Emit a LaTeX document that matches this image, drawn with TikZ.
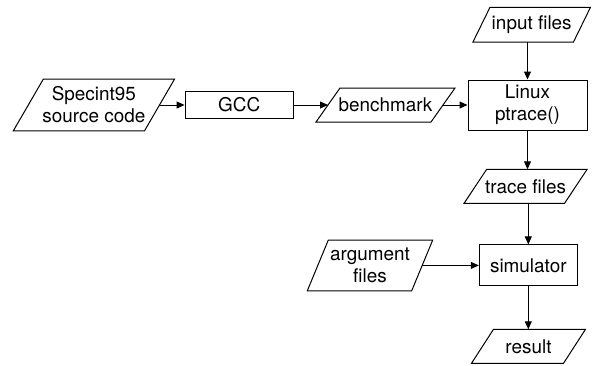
\documentclass[tikz,border=0pt]{standalone}
\usepackage{fontspec}
\setmainfont{TeX Gyre Heros}
\usetikzlibrary{arrows.meta}
\newcommand\iopara[2]{\draw[line width=1pt, line join=miter] ([xshift=#2pt]#1.north west) -- ([xshift=#2pt]#1.north east) -- ([xshift=-#2pt]#1.south east) -- ([xshift=-#2pt]#1.south west) -- cycle;}
\begin{document}
\begin{tikzpicture}[x=1pt,y=-1pt,
  font=\fontsize{18.9}{22}\selectfont,
  procbox/.style={draw, line width=1pt, inner sep=0pt, align=center},
  iobox/.style={inner sep=0pt, outer sep=0pt, align=center},
  conn/.style={line width=1pt, -{Triangle[length=8pt,width=7pt]}}]
\fill[white] (0,0) rectangle (597,365);
\useasboundingbox (0,0) rectangle (597,365);
% nodes
\node[iobox, minimum width=131.2pt, minimum height=51.7pt] (spec) at (93.9,105) {Specint95\\source code};
\node[procbox, minimum width=108.3pt, minimum height=27.3pt] (gcc) at (239.2,105) {GCC};
\node[iobox, minimum width=115pt, minimum height=34pt] (bench) at (385.5,105) {benchmark};
\node[procbox, minimum width=119pt, minimum height=50pt] (linux) at (527.5,105) {Linux\\ptrace()};
\node[iobox, minimum width=100.5pt, minimum height=34.7pt] (input) at (531.7,24.7) {input files};
\node[iobox, minimum width=100.5pt, minimum height=34pt] (trace) at (525.6,186.3) {trace files};
\node[iobox, minimum width=104.4pt, minimum height=50.7pt] (args) at (370,265.4) {argument\\files};
\node[procbox, minimum width=98pt, minimum height=41pt] (sim) at (528.3,265.4) {simulator};
\node[iobox, minimum width=92pt, minimum height=34pt] (res) at (528.5,346.3) {result};
% parallelogram outlines
\iopara{spec}{15}
\iopara{bench}{12}
\iopara{input}{8.5}
\iopara{trace}{11.3}
\iopara{args}{10.5}
\iopara{res}{11}
% connectors
\draw[conn] (spec.east) -- (gcc.west);
\draw[conn] (gcc.east) -- (bench.west);
\draw[conn] (bench.east) -- (linux.west);
\draw[conn] (linux.north |- input.south) -- (linux.north);
\draw[conn] (linux.south) -- (linux.south |- trace.north);
\draw[conn] (sim.north |- trace.south) -- (sim.north);
\draw[conn] (args.east) -- (sim.west);
\draw[conn] (sim.south) -- (sim.south |- res.north);
\end{tikzpicture}
\end{document}
